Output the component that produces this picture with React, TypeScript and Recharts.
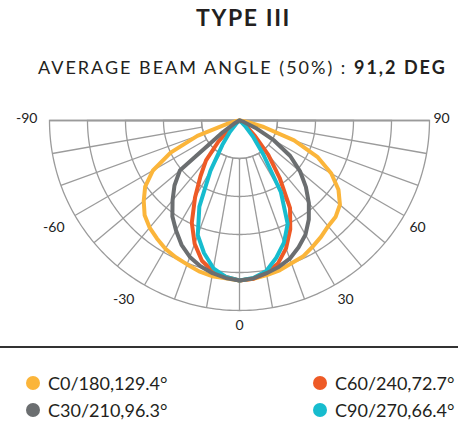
import React from 'react';
import { RadarChart, Radar, PolarGrid, PolarAngleAxis, PolarRadiusAxis } from 'recharts';

// gamma angle (deg from nadir), left side negative
const angles = [-90, -85, -80, -75, -70, -65, -60, -55, -50, -45, -40, -35, -30, -25, -20, -15, -10, -5, 0,
  5, 10, 15, 20, 25, 30, 35, 40, 45, 50, 55, 60, 65, 70, 75, 80, 85, 90];

const c0 = [0, 3, 8, 32, 118, 200, 263, 303, 329, 353, 368, 379, 390, 397, 403, 411, 416, 417, 421,
  418, 413, 408, 400, 395, 384, 374, 363, 358, 345, 318, 279, 226, 153, 66, 21, 5, 0];
const c30 = [0, 0, 0, 0, 0, 3, 13, 53, 205, 242, 274, 308, 334, 361, 382, 397, 408, 416, 421,
  417, 408, 399, 387, 368, 347, 318, 284, 247, 208, 163, 105, 50, 13, 5, 0, 0, 0];
const c60 = [0, 0, 0, 0, 0, 0, 0, 8, 32, 79, 137, 179, 234, 297, 345, 382, 403, 413, 421,
  418, 408, 390, 358, 316, 266, 184, 118, 58, 24, 8, 0, 0, 0, 0, 0, 0, 0];
const c90 = [0, 0, 0, 0, 0, 0, 0, 0, 3, 13, 39, 79, 153, 250, 321, 361, 395, 413, 421,
  416, 403, 374, 342, 300, 218, 110, 55, 21, 5, 0, 0, 0, 0, 0, 0, 0, 0];

const seriesKeys = ['c0', 'c30', 'c60', 'c90'];
const seriesNames = ['C0/180,129.4°', 'C30/210,96.3°', 'C60/240,72.7°', 'C90/270,66.4°'];
const seriesColors = ['#FBB53A', '#6B6E70', '#EE5A26', '#17BCCE'];
const drawOrder = [0, 2, 3, 1];

const labelTicks = [-90, -60, -30, 0, 30, 60, 90];
const spokeTicks = [-90, -80, -70, -60, -50, -40, -30, -20, -10, 0, 10, 20, 30, 40, 50, 60, 70, 80, 90];
const ringTicks = [100, 200, 300, 400, 500];
const radiusDomain = [0, 500];

const title = 'TYPE III';
const subtitleText = 'AVERAGE BEAM ANGLE (50%) : ';
const subtitleValue = '91,2 DEG';

const data = angles.map((a, i) => ({ angle: a, c0: c0[i], c30: c30[i], c60: c60[i], c90: c90[i] }));

// layout / style
const W = 458;
const CH = 340;
const CX = 239.5;
const CY = 120.5;
const OUTER = 190;
const INNER = 38;
const GRID = '#9b9b9b';
const FONT = 'Lato, "Noto Sans", sans-serif';
const arcAngles = Array.from({ length: 181 }, (_, i) => 180 + i);
const labelNudge: Record<string, [number, number]> = {
  '-90': [0, -3], '-60': [0, 5], '-30': [-4, 3], '0': [0, 2], '30': [-3, 3], '60': [-5, 5], '90': [-8, -3],
};

const AngleTick = (props: any) => {
  const { x, y, payload } = props;
  const v = Number(payload.value);
  const n = labelNudge[String(v)] || [0, 0];
  const anchor = v < 0 ? 'end' : v > 0 ? 'start' : 'middle';
  return (
    <text x={x + n[0]} y={y + n[1]} textAnchor={anchor} dominantBaseline="central"
      fontSize={14} fill="#222" fontFamily={FONT}>{v}</text>
  );
};

const chartStyle: React.CSSProperties = { position: 'absolute', left: 0, top: 0 };

export default function App() {
  return (
    <div style={{ position: 'absolute', left: 0, top: 0, width: W, height: 423, background: '#fff', fontFamily: FONT, color: '#231f20' }}>
      <div style={{ position: 'absolute', left: 196, top: 4, fontSize: 23, fontWeight: 700, letterSpacing: 1.6, lineHeight: '26px', whiteSpace: 'nowrap' }}>
        {title}
      </div>
      <div style={{ position: 'absolute', left: 38, top: 55, fontSize: 18, letterSpacing: 2, lineHeight: '24px', whiteSpace: 'nowrap' }}>
        {subtitleText}<b>{subtitleValue}</b>
      </div>

      <div style={chartStyle}>
        <RadarChart width={W} height={CH} data={data} cx={CX} cy={CY} innerRadius={INNER} outerRadius={OUTER}
          startAngle={180} endAngle={360} margin={{ top: 0, right: 0, bottom: 0, left: 0 }}>
          <PolarAngleAxis type="number" dataKey="angle" domain={[-90, 90]} ticks={spokeTicks} tick={false} tickLine={false} axisLine={false} />
          <PolarRadiusAxis type="number" domain={radiusDomain} tick={false} axisLine={false} />
          <PolarGrid gridType="polygon" polarRadius={[INNER]} stroke={GRID} strokeWidth={1.3} />
        </RadarChart>
      </div>

      <div style={chartStyle}>
        <RadarChart width={W} height={CH} data={data} cx={CX} cy={CY} innerRadius={0} outerRadius={OUTER}
          startAngle={180} endAngle={360} margin={{ top: 0, right: 0, bottom: 0, left: 0 }}>
          <PolarGrid gridType="polygon" polarAngles={arcAngles} radialLines={false} stroke={GRID} strokeWidth={1.3} />
          <PolarAngleAxis type="number" dataKey="angle" domain={[-90, 90]} ticks={labelTicks} tickSize={12}
            tick={<AngleTick />} tickLine={false} axisLine={false} />
          <PolarRadiusAxis type="number" domain={radiusDomain} ticks={ringTicks} tick={false} axisLine={false} />
          {drawOrder.map((i) => (
            <Radar key={seriesKeys[i]} dataKey={seriesKeys[i]} name={seriesNames[i]} stroke={seriesColors[i]}
              strokeWidth={4} fill="none" fillOpacity={0} dot={false} isAnimationActive={false}
              strokeLinejoin="round" />
          ))}
        </RadarChart>
      </div>

      <div style={{ position: 'absolute', left: 0, top: 346, width: W, height: 2, background: '#333' }} />

      {seriesNames.map((name, i) => {
        const col = i === 0 || i === 1 ? 0 : 1;
        const row = i === 0 || i === 2 ? 0 : 1;
        const left = col === 0 ? 26 : 313;
        const top = row === 0 ? 373 : 400;
        return (
          <div key={name} style={{ position: 'absolute', left, top, height: 20, display: 'flex', alignItems: 'center', whiteSpace: 'nowrap' }}>
            <span style={{ display: 'inline-block', width: 14, height: 14, borderRadius: 7, background: seriesColors[i], marginRight: 8 }} />
            <span style={{ fontSize: 18 }}>{name}</span>
          </div>
        );
      })}
    </div>
  );
}
